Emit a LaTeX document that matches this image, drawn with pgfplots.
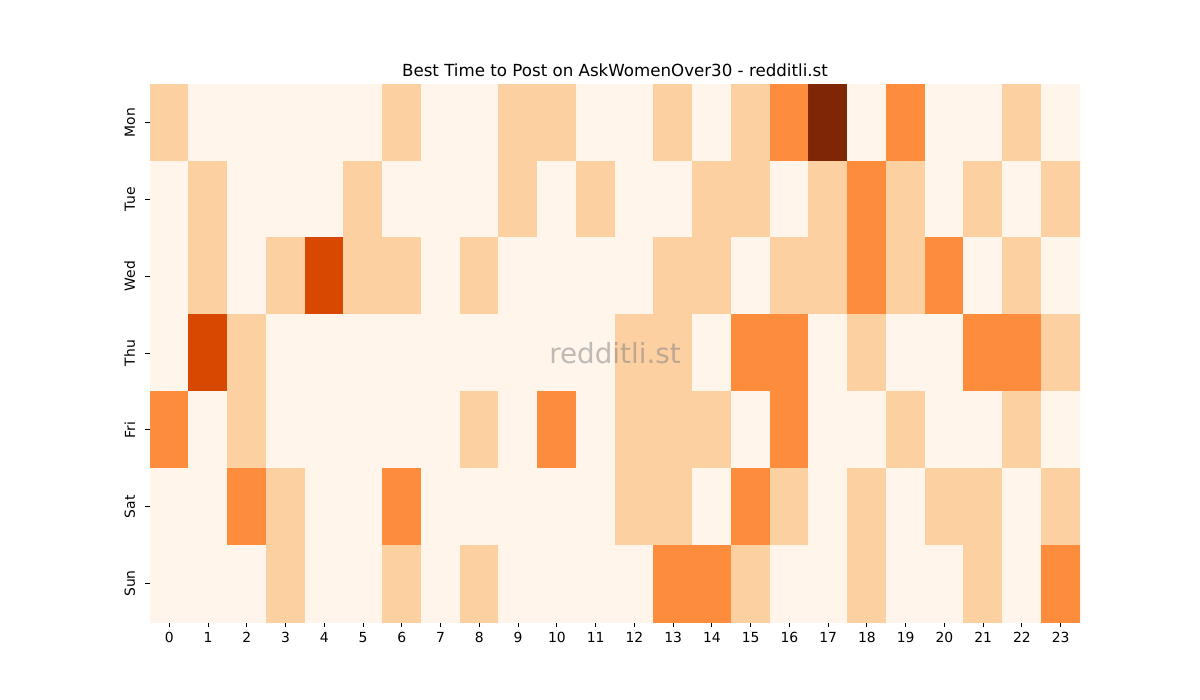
\documentclass[border=0pt]{standalone}
\usepackage{fontspec}
\setmainfont{DejaVu Sans}
\usepackage{pgfplots}
\usepackage{pgfplotstable}
\pgfplotsset{compat=1.18}

\pgfplotstableread[row sep=\\]{
x y c\\
0 0 1\\ 1 0 0\\ 2 0 0\\ 3 0 0\\ 4 0 0\\ 5 0 0\\ 6 0 1\\ 7 0 0\\ 8 0 0\\ 9 0 1\\ 10 0 1\\ 11 0 0\\ 12 0 0\\ 13 0 1\\ 14 0 0\\ 15 0 1\\ 16 0 2\\ 17 0 4\\ 18 0 0\\ 19 0 2\\ 20 0 0\\ 21 0 0\\ 22 0 1\\ 23 0 0\\
0 1 0\\ 1 1 1\\ 2 1 0\\ 3 1 0\\ 4 1 0\\ 5 1 1\\ 6 1 0\\ 7 1 0\\ 8 1 0\\ 9 1 1\\ 10 1 0\\ 11 1 1\\ 12 1 0\\ 13 1 0\\ 14 1 1\\ 15 1 1\\ 16 1 0\\ 17 1 1\\ 18 1 2\\ 19 1 1\\ 20 1 0\\ 21 1 1\\ 22 1 0\\ 23 1 1\\
0 2 0\\ 1 2 1\\ 2 2 0\\ 3 2 1\\ 4 2 3\\ 5 2 1\\ 6 2 1\\ 7 2 0\\ 8 2 1\\ 9 2 0\\ 10 2 0\\ 11 2 0\\ 12 2 0\\ 13 2 1\\ 14 2 1\\ 15 2 0\\ 16 2 1\\ 17 2 1\\ 18 2 2\\ 19 2 1\\ 20 2 2\\ 21 2 0\\ 22 2 1\\ 23 2 0\\
0 3 0\\ 1 3 3\\ 2 3 1\\ 3 3 0\\ 4 3 0\\ 5 3 0\\ 6 3 0\\ 7 3 0\\ 8 3 0\\ 9 3 0\\ 10 3 0\\ 11 3 0\\ 12 3 1\\ 13 3 1\\ 14 3 0\\ 15 3 2\\ 16 3 2\\ 17 3 0\\ 18 3 1\\ 19 3 0\\ 20 3 0\\ 21 3 2\\ 22 3 2\\ 23 3 1\\
0 4 2\\ 1 4 0\\ 2 4 1\\ 3 4 0\\ 4 4 0\\ 5 4 0\\ 6 4 0\\ 7 4 0\\ 8 4 1\\ 9 4 0\\ 10 4 2\\ 11 4 0\\ 12 4 1\\ 13 4 1\\ 14 4 1\\ 15 4 0\\ 16 4 2\\ 17 4 0\\ 18 4 0\\ 19 4 1\\ 20 4 0\\ 21 4 0\\ 22 4 1\\ 23 4 0\\
0 5 0\\ 1 5 0\\ 2 5 2\\ 3 5 1\\ 4 5 0\\ 5 5 0\\ 6 5 2\\ 7 5 0\\ 8 5 0\\ 9 5 0\\ 10 5 0\\ 11 5 0\\ 12 5 1\\ 13 5 1\\ 14 5 0\\ 15 5 2\\ 16 5 1\\ 17 5 0\\ 18 5 1\\ 19 5 0\\ 20 5 1\\ 21 5 1\\ 22 5 0\\ 23 5 1\\
0 6 0\\ 1 6 0\\ 2 6 0\\ 3 6 1\\ 4 6 0\\ 5 6 0\\ 6 6 1\\ 7 6 0\\ 8 6 1\\ 9 6 0\\ 10 6 0\\ 11 6 0\\ 12 6 0\\ 13 6 2\\ 14 6 2\\ 15 6 1\\ 16 6 0\\ 17 6 0\\ 18 6 1\\ 19 6 0\\ 20 6 0\\ 21 6 1\\ 22 6 0\\ 23 6 2\\
}\heat

\begin{document}
\begin{tikzpicture}
\path (0,0) rectangle (900pt,525pt);
\begin{axis}[
  at={(112.5pt,58.5pt)}, anchor=south west,
  scale only axis, width=697.5pt, height=403.5pt,
  xmin=-0.5, xmax=23.5, ymin=-0.5, ymax=6.5,
  y dir=reverse,
  axis line style={draw=none},
  tick pos=left, tick align=outside,
  major tick length=3.65pt,
  every tick/.style={black, line width=0.6pt},
  xtick={0,...,23},
  ytick={0,...,6},
  yticklabels={Mon,Tue,Wed,Thu,Fri,Sat,Sun},
  /pgf/number format/assume math mode=true,
  tick label style={font=\fontsize{10.42pt}{12pt}\selectfont},
  xticklabel style={anchor=north, inner sep=0pt, yshift=-3.65pt},
  yticklabel style={xshift=-7.3pt, rotate=90, anchor=south, inner sep=0pt},
  colormap={oranges}{rgb255=(255,245,235) rgb255=(253,208,162) rgb255=(253,141,60) rgb255=(217,72,1) rgb255=(127,39,4)},
  point meta min=0, point meta max=4,
  title={Best Time to Post on AskWomenOver30 - redditli.st},
  title style={font=\fontsize{12.5pt}{15pt}\selectfont, anchor=base, at={(0.5,1)}, inner sep=0pt},
]
\addplot[matrix plot*, mesh/cols=24, point meta=explicit] table[x=x, y=y, meta=c] {\heat};
\node[text=gray, opacity=0.5, font=\fontsize{20.83pt}{24pt}\selectfont] at (rel axis cs:0.5,0.5) {redditli.st};
\end{axis}
\end{tikzpicture}
\end{document}
